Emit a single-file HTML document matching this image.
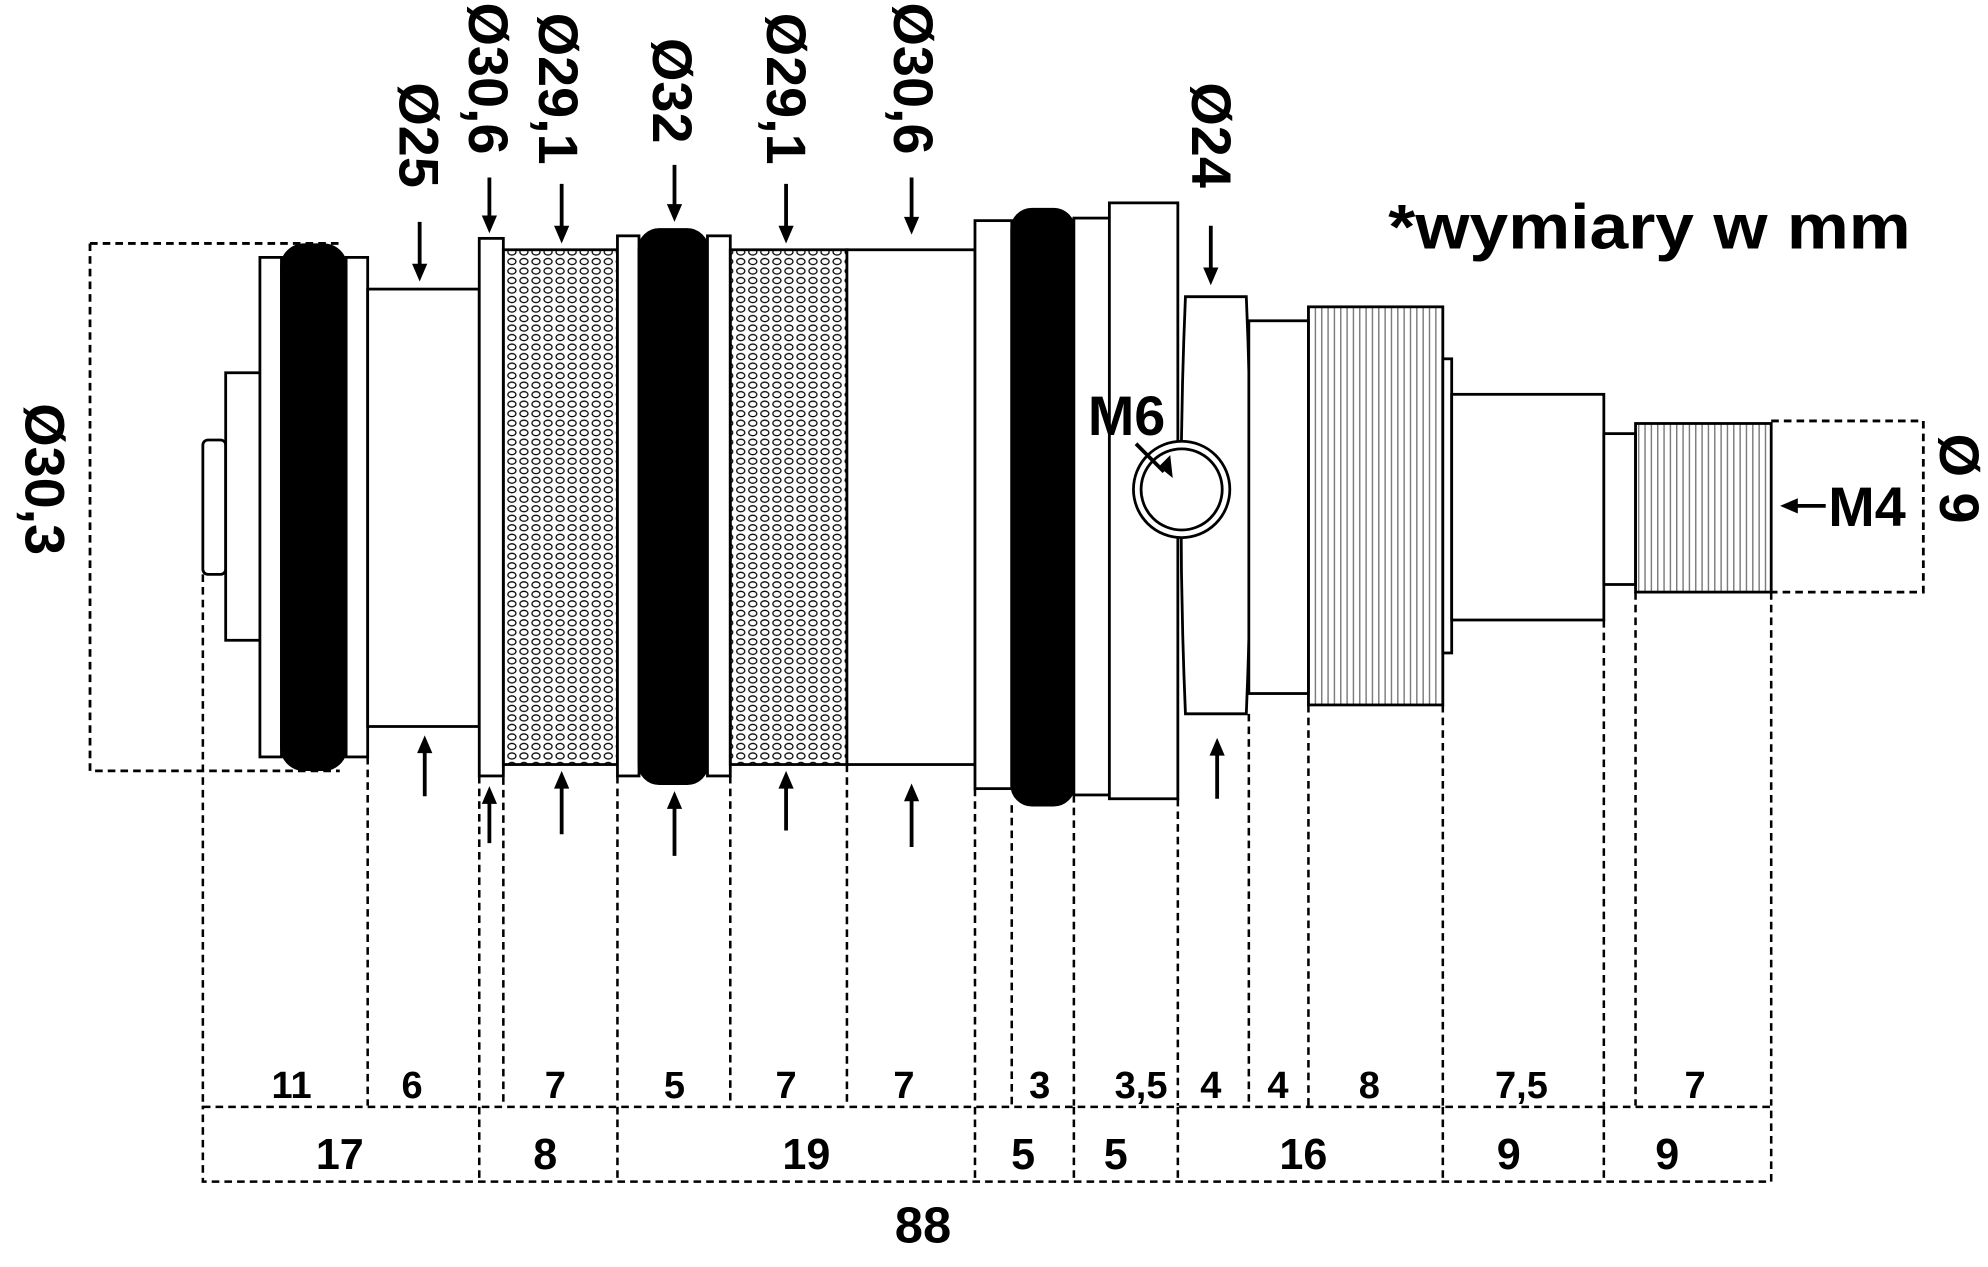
<!DOCTYPE html>
<html><head><meta charset="utf-8"><style>html,body{margin:0;padding:0;background:#fff}svg{display:block}</style></head>
<body>
<svg width="1988" height="1267" viewBox="0 0 1568 999.3" xmlns="http://www.w3.org/2000/svg" font-family="Liberation Sans, Arial, sans-serif" font-weight="bold">
<defs>
<pattern id="mesh" width="9.5" height="7.5" patternUnits="userSpaceOnUse">
<ellipse cx="4.75" cy="3.75" rx="3.2" ry="2.4" fill="none" stroke="#000" stroke-width="1"/>
</pattern>
<pattern id="knurl" width="5" height="10" patternUnits="userSpaceOnUse">
<line x1="2.5" y1="0" x2="2.5" y2="10" stroke="#777" stroke-width="1.1"/>
</pattern>
</defs>
<rect width="1568" height="1000" fill="#fff"/>
<g fill="#fff" stroke="#000" stroke-width="2.2">
<path d="M71,192H268 M71,192V608H268" fill="none" stroke-dasharray="6,4"/>
<rect x="160" y="347" width="18" height="106" rx="4"/>
<rect x="178" y="294" width="27" height="211"/>
<rect x="205" y="203" width="17" height="394"/>
<rect x="222" y="193" width="51" height="414" rx="18" fill="#000"/>
<rect x="273" y="203" width="17" height="394"/>
<rect x="290" y="228" width="88" height="345"/>
<rect x="378" y="188" width="19" height="424"/>
<rect x="397" y="197" width="90" height="406" fill="url(#mesh)"/>
<rect x="487" y="186" width="17" height="426"/>
<rect x="504" y="181" width="54" height="437" rx="16" fill="#000"/>
<rect x="558" y="186" width="18" height="426"/>
<rect x="576" y="197" width="92" height="406" fill="url(#mesh)"/>
<rect x="668" y="197" width="101" height="406"/>
<rect x="769" y="174" width="29" height="448"/>
<rect x="798" y="165" width="49" height="470" rx="16" fill="#000"/>
<rect x="847" y="172" width="28" height="455"/>
<rect x="875" y="160" width="54" height="470"/>
<path d="M935,234H983Q990,398 983,563H935Q928,398 935,234Z"/>
<circle cx="932" cy="386" r="38"/>
<circle cx="932" cy="386" r="32"/>
<rect x="985" y="253" width="47" height="294"/>
<rect x="1032" y="242" width="106" height="314" fill="url(#knurl)"/>
<rect x="1138" y="283" width="7" height="232"/>
<rect x="1145" y="311" width="120" height="178"/>
<rect x="1265" y="342" width="25" height="119"/>
<rect x="1290" y="334" width="107" height="133" fill="url(#knurl)"/>
<path d="M1397,332H1517V467H1397" fill="none" stroke-dasharray="6,4"/>
</g>
<g stroke="#000" stroke-width="2" stroke-dasharray="6,4" fill="none">
<path d="M160,453V872 M290,597V872 M378,612V872 M397,603V872 M487,612V872 M576,612V872 M668,603V872 M769,622V872 M798,635V872 M847,627V872 M929,630V872 M985,563V872 M1032,556V872 M1138,556V872 M1265,489V872 M1290,467V872 M1397,467V872"/>
<rect x="160" y="873" width="1237" height="59"/>
<path d="M378,873V932 M487,873V932 M769,873V932 M847,873V932 M929,873V932 M1138,873V932 M1265,873V932"/>
</g>
<g font-size="30" text-anchor="middle">
<text x="230" y="866">11</text><text x="325" y="866">6</text><text x="438" y="866">7</text><text x="532" y="866">5</text><text x="620" y="866">7</text><text x="713" y="866">7</text><text x="820" y="866">3</text><text x="900" y="866">3,5</text><text x="955" y="866">4</text><text x="1008" y="866">4</text><text x="1080" y="866">8</text><text x="1200" y="866">7,5</text><text x="1337" y="866">7</text>
<text x="268" y="922" font-size="34">17</text><text x="430" y="922" font-size="34">8</text><text x="636" y="922" font-size="34">19</text><text x="807" y="922" font-size="34">5</text><text x="880" y="922" font-size="34">5</text><text x="1028" y="922" font-size="34">16</text><text x="1190" y="922" font-size="34">9</text><text x="1315" y="922" font-size="34">9</text>
<text x="728" y="980" font-size="40">88</text>
</g>
<g font-size="44">
<text transform="translate(315,65) rotate(90)">Ø25</text>
<text transform="translate(370,2) rotate(90)">Ø30,6</text>
<text transform="translate(425,10) rotate(90)">Ø29,1</text>
<text transform="translate(515,30) rotate(90)">Ø32</text>
<text transform="translate(605,10) rotate(90)">Ø29,1</text>
<text transform="translate(705,2) rotate(90)">Ø30,6</text>
<text transform="translate(940,65) rotate(90)">Ø24</text>
<text transform="translate(20,318) rotate(90)">Ø30,3</text>
<text transform="translate(1530,342) rotate(90)">Ø 9</text>
<text x="858" y="343">M6</text>
<text x="1442" y="415">M4</text>
<text x="1095" y="196" font-size="50" textLength="412" lengthAdjust="spacingAndGlyphs">*wymiary w mm</text>
</g>
<g stroke="#000" stroke-width="3">
<path d="M331,175V210 M386,140V172 M443,145V180 M532,130V163 M620,145V180 M719,140V173 M955,178V213"/>
<path d="M335,628V592 M386,665V632 M443,658V620 M532,675V636 M620,655V620 M719,668V630 M960,630V594"/>
<path d="M896,350L918,372 M1440,399H1416"/>
</g>
<g fill="#000">
<path d="M325,208h12l-6,14z M380,170h12l-6,14z M437,178h12l-6,14z M526,161h12l-6,14z M614,178h12l-6,14z M713,171h12l-6,14z M949,211h12l-6,14z"/>
<path d="M329,594h12l-6,-14z M380,634h12l-6,-14z M437,622h12l-6,-14z M526,638h12l-6,-14z M614,622h12l-6,-14z M713,632h12l-6,-14z M954,596h12l-6,-14z"/>
<path d="M914,368l9,-9l2,18z M1418,393v12l-14,-6z"/>
</g>
</svg>
</body></html>
